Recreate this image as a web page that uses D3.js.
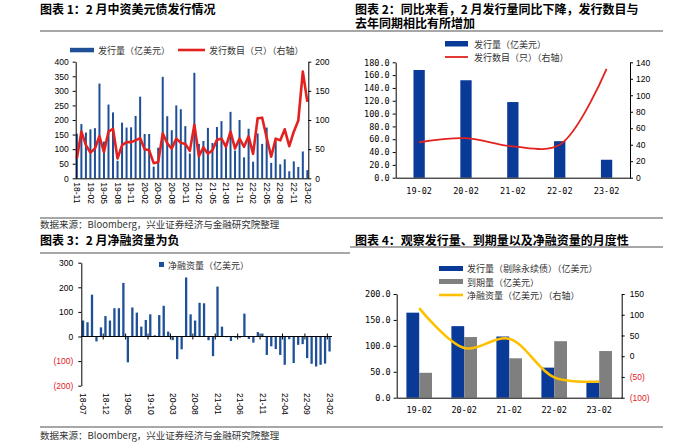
<!DOCTYPE html>
<html><head><meta charset="utf-8">
<script src="https://cdn.jsdelivr.net/npm/d3@7"></script>
<style>body{margin:0;background:#fff}svg{display:block}</style>
</head><body><svg id="c" width="700" height="442"></svg>
<script>
// ---------- DATA ----------
const months1 = ["18-11","18-12","19-01","19-02","19-03","19-04","19-05","19-06","19-07","19-08","19-09","19-10","19-11","19-12",
"20-01","20-02","20-03","20-04","20-05","20-06","20-07","20-08","20-09","20-10","20-11","20-12",
"21-01","21-02","21-03","21-04","21-05","21-06","21-07","21-08","21-09","21-10","21-11","21-12",
"22-01","22-02","22-03","22-04","22-05","22-06","22-07","22-08","22-09","22-10","22-11","22-12","23-01","23-02"];
const issueAmt1 = [153,186,157,168,172,325,126,253,226,60,191,174,175,214,280,152,152,40,105,348,213,165,250,237,179,85,
362,118,128,173,121,176,196,120,228,95,200,72,170,57,154,118,174,53,128,48,65,24,58,39,92,28];
const issueCnt1 = [34,80,57,44,51,72,45,80,85,34,57,62,62,65,69,50,48,26,28,77,60,51,68,61,59,47,
92,38,53,42,48,66,68,54,80,51,68,54,72,42,103,104,70,37,68,65,84,55,80,99,183,131];
const leftTicks1 = [0,50,100,150,200,250,300,350,400];
const rightTicks1 = [0,50,100,150,200];

const years2 = ["19-02","20-02","21-02","22-02","23-02"];
const issueAmt2 = [168,152,118,57,28];
const issueCnt2 = [43,48,38,40,132];
const leftTicks2 = [0,20,40,60,80,100,120,140,160,180];
const rightTicks2 = [0,20,40,60,80,100,120,140];

const months3 = ["18-07","18-08","18-09","18-10","18-11","18-12","19-01","19-02","19-03","19-04","19-05","19-06","19-07","19-08","19-09","19-10","19-11","19-12",
"20-01","20-02","20-03","20-04","20-05","20-06","20-07","20-08","20-09","20-10","20-11","20-12",
"21-01","21-02","21-03","21-04","21-05","21-06","21-07","21-08","21-09","21-10","21-11","21-12",
"22-01","22-02","22-03","22-04","22-05","22-06","22-07","22-08","22-09","22-10","22-11","22-12","23-01","23-02"];
const netFin3 = [65,58,170,-20,37,83,65,115,115,218,-105,118,97,40,67,90,5,87,125,20,-15,-92,-52,240,
90,65,137,135,-15,-80,203,40,-3,-18,-5,-5,93,-10,-25,18,12,-75,-40,-51,-75,-115,-11,-108,-34,-31,-88,-111,-122,-115,-110,-61];
const ticks3 = [-200,-100,0,100,200,300];

const years4 = ["19-02","20-02","21-02","22-02","23-02"];
const issueEx4 = [164,138,118,58,29];
const maturity4 = [48,117,76,109,90];
const netFin4 = [116,20,42,-51,-61];
const leftTicks4 = [0,50,100,150,200];
const rightTicks4 = [-100,-50,0,50,100,150];

// ---------- STYLE ----------
const BLUE1 = "#1f5097", BLUE2 = "#0a3a98", RED = "#e3211f", GRAY = "#7f7f7f", YEL = "#ffc000";
const CJK = "'Noto Sans CJK SC', sans-serif";
const NUM = "'Liberation Sans', Arial, sans-serif";
const MONO = "'DejaVu Sans Mono', monospace";
const negFmt = d => d < 0 ? "(" + (-d) + ")" : String(d);

const svg = d3.select("#c");

function text(x, y, s, opts) {
  const t = svg.append("text").attr("x", x).attr("y", y).text(s)
    .attr("font-family", opts.family || CJK).attr("font-size", opts.size || 9)
    .attr("fill", opts.fill || "#000");
  if (opts.weight) t.attr("font-weight", opts.weight);
  if (opts.anchor) t.attr("text-anchor", opts.anchor);
  if (opts.baseline) t.attr("dominant-baseline", opts.baseline);
  return t;
}
function hline(x1, x2, y, color, w) {
  svg.append("line").attr("x1", x1).attr("x2", x2).attr("y1", y).attr("y2", y)
    .attr("stroke", color).attr("stroke-width", w);
}
function styleAxis(g, family, size, colorFn) {
  g.select(".domain").attr("stroke", "#000").attr("stroke-width", 1);
  g.selectAll(".tick line").attr("stroke", "#000");
  g.selectAll(".tick text").attr("font-family", family).attr("font-size", size)
    .attr("fill", d => colorFn ? colorFn(d) : "#000");
}

// ---------- FRAME TEXT ----------
text(40, 13.6, "图表 1：2 月中资美元债发行情况", {size: 12, weight: 700});
{
  const t2 = text(355, 13.6, "", {size: 12, weight: 700});
  t2.append("tspan").attr("x", 355).attr("y", 13.6).text("图表 2：同比来看，2 月发行量同比下降，发行数目与");
  t2.append("tspan").attr("x", 355).attr("y", 27.6).text("去年同期相比有所增加");
}
text(40, 245, "图表 3：2 月净融资量为负", {size: 12, weight: 700});
text(355, 245, "图表 4：观察发行量、到期量以及净融资量的月度性", {size: 12, weight: 700});
hline(40, 663, 31, "#8a8a8a", 1.5);
hline(40, 663, 218, "#8a8a8a", 1.5);
hline(40, 350, 253, "#8a8a8a", 1.5);
hline(350, 663, 247, "#8a8a8a", 1.5);
hline(40, 663, 427, "#8a8a8a", 1.5);
text(40, 228, "数据来源：Bloomberg，兴业证券经济与金融研究院整理", {size: 9.5, fill: "#333"});
text(40, 439, "数据来源：Bloomberg，兴业证券经济与金融研究院整理", {size: 9.5, fill: "#333"});

// ---------- CHART 1 ----------
{
  const x = d3.scaleBand().domain(months1).range([74.6, 309.6]).padding(0);
  const yL = d3.scaleLinear().domain([0, 400]).range([178.3, 61.7]);
  const yR = d3.scaleLinear().domain([0, 200]).range([178.3, 61.7]);
  const bw = 2;
  svg.append("g").selectAll("rect").data(issueAmt1).join("rect")
    .attr("x", (d, i) => x(months1[i]) + x.bandwidth() / 2 - bw / 2)
    .attr("y", d => yL(d)).attr("width", bw).attr("height", d => yL(0) - yL(d))
    .attr("fill", BLUE1);
  svg.append("path").datum(issueCnt1)
    .attr("d", d3.line().x((d, i) => x(months1[i]) + x.bandwidth() / 2).y(d => yR(d)))
    .attr("fill", "none").attr("stroke", RED).attr("stroke-width", 2.6).attr("stroke-linejoin", "round");
  const gl = svg.append("g").attr("transform", "translate(75.7,0)")
    .call(d3.axisLeft(yL).tickValues(leftTicks1).tickSize(3).tickSizeOuter(0).tickPadding(4));
  styleAxis(gl, NUM, 8.5);
  const gr = svg.append("g").attr("transform", "translate(308.3,0)")
    .call(d3.axisRight(yR).tickValues(rightTicks1).tickSize(3).tickSizeOuter(0).tickPadding(4));
  styleAxis(gr, NUM, 8.5);
  const gb = svg.append("g").attr("transform", "translate(0,178.3)")
    .call(d3.axisBottom(x).tickValues(months1.filter((d, i) => i % 3 === 0)).tickSize(0).tickSizeOuter(0));
  styleAxis(gb, NUM, 8.5);
  gb.select(".domain").attr("d", "M75.7,0.5H308.3");
  gb.selectAll(".tick text").attr("transform", "translate(0,4) rotate(90)")
    .attr("text-anchor", "start").attr("dy", "0.32em").attr("x", 0).attr("y", 0);
  // legend
  svg.append("rect").attr("x", 70).attr("y", 47.8).attr("width", 24).attr("height", 4.5).attr("fill", BLUE1);
  text(98, 50.5, "发行量（亿美元）", {size: 9, fill: "#333", baseline: "central"});
  svg.append("line").attr("x1", 178).attr("x2", 205).attr("y1", 50).attr("y2", 50).attr("stroke", RED).attr("stroke-width", 2.6);
  text(209, 50.5, "发行数目（只）（右轴）", {size: 9, fill: "#333", baseline: "central"});
}

// ---------- CHART 2 ----------
{
  const x = d3.scaleBand().domain(years2).range([395.7, 630]).padding(0);
  const yL = d3.scaleLinear().domain([0, 180]).range([177.7, 62.3]);
  const yR = d3.scaleLinear().domain([0, 140]).range([177.7, 62.3]);
  const bw = 11.3;
  svg.append("g").selectAll("rect").data(issueAmt2).join("rect")
    .attr("x", (d, i) => x(years2[i]) + x.bandwidth() / 2 - bw / 2)
    .attr("y", d => yL(d)).attr("width", bw).attr("height", d => yL(0) - yL(d))
    .attr("fill", BLUE2);
  svg.append("path").datum(issueCnt2)
    .attr("d", d3.line().curve(d3.curveCatmullRom.alpha(0.5)).x((d, i) => x(years2[i]) + x.bandwidth() / 2).y(d => yR(d)))
    .attr("fill", "none").attr("stroke", RED).attr("stroke-width", 1.8);
  const gl = svg.append("g").attr("transform", "translate(395.7,0)")
    .call(d3.axisLeft(yL).tickValues(leftTicks2).tickFormat(d3.format(".1f")).tickSize(3).tickSizeOuter(0).tickPadding(3));
  styleAxis(gl, MONO, 8.5);
  const gr = svg.append("g").attr("transform", "translate(630,0)")
    .call(d3.axisRight(yR).tickValues(rightTicks2).tickSize(3).tickSizeOuter(0).tickPadding(3));
  styleAxis(gr, NUM, 8.5);
  const gb = svg.append("g").attr("transform", "translate(0,177.7)")
    .call(d3.axisBottom(x).tickSize(0).tickSizeOuter(0).tickPadding(10));
  styleAxis(gb, MONO, 8.5);
  // legend
  svg.append("rect").attr("x", 445).attr("y", 41).attr("width", 23).attr("height", 5.5).attr("fill", BLUE2);
  text(474, 44, "发行量（亿美元）", {size: 9, fill: "#333", baseline: "central"});
  svg.append("line").attr("x1", 445).attr("x2", 468).attr("y1", 57).attr("y2", 57).attr("stroke", RED).attr("stroke-width", 1.8);
  text(474, 57.5, "发行数目（只）（右轴）", {size: 9, fill: "#333", baseline: "central"});
}

// ---------- CHART 3 ----------
{
  const x = d3.scaleBand().domain(months3).range([80.8, 331.8]).padding(0);
  const y = d3.scaleLinear().domain([-200, 300]).range([385.7, 262.7]);
  const bw = 2.3;
  svg.append("g").selectAll("rect").data(netFin3).join("rect")
    .attr("x", (d, i) => x(months3[i]) + x.bandwidth() / 2 - bw / 2)
    .attr("y", d => y(Math.max(0, d))).attr("width", bw).attr("height", d => Math.abs(y(d) - y(0)))
    .attr("fill", BLUE1);
  const gl = svg.append("g").attr("transform", "translate(81.3,0)")
    .call(d3.axisLeft(y).tickValues(ticks3).tickFormat(negFmt).tickSize(3).tickSizeOuter(0).tickPadding(5));
  styleAxis(gl, NUM, 8.5, d => d < 0 ? "#e3211f" : "#000");
  // zero line with boundary ticks
  hline(81.3, 332, y(0), "#000", 1);
  const tickMonths = months3.filter((d, i) => i % 5 === 0 && i > 0);
  svg.append("g").selectAll("line").data(tickMonths).join("line")
    .attr("x1", d => x(d)).attr("x2", d => x(d)).attr("y1", y(0) - 3).attr("y2", y(0) + 3)
    .attr("stroke", "#000");
  // rotated labels at bottom
  const gb = svg.append("g").attr("transform", "translate(0,389)")
    .call(d3.axisBottom(x).tickValues(months3.filter((d, i) => i % 5 === 0)).tickSize(0));
  gb.select(".domain").remove();
  styleAxis(gb, NUM, 8.5);
  gb.selectAll(".tick text").attr("transform", "translate(0,4) rotate(90)")
    .attr("text-anchor", "start").attr("dy", "0.32em").attr("x", 0).attr("y", 0);
  // legend
  svg.append("rect").attr("x", 159).attr("y", 262).attr("width", 5).attr("height", 5).attr("fill", BLUE1);
  text(168, 265, "净融资量（亿美元）", {size: 9, fill: "#333", baseline: "central"});
}

// ---------- CHART 4 ----------
{
  const x = d3.scaleBand().domain(years4).range([396.7, 621.7]).padding(0);
  const yL = d3.scaleLinear().domain([0, 200]).range([397.7, 294]);
  const yR = d3.scaleLinear().domain([-100, 150]).range([397.7, 294]);
  const bw = 12.8;
  const cx = i => x(years4[i]) + x.bandwidth() / 2;
  svg.append("g").selectAll("rect").data(issueEx4).join("rect")
    .attr("x", (d, i) => cx(i) - bw).attr("y", d => yL(d)).attr("width", bw).attr("height", d => yL(0) - yL(d))
    .attr("fill", BLUE2);
  svg.append("g").selectAll("rect").data(maturity4).join("rect")
    .attr("x", (d, i) => cx(i)).attr("y", d => yL(d)).attr("width", bw).attr("height", d => yL(0) - yL(d))
    .attr("fill", GRAY);
  svg.append("path").datum(netFin4)
    .attr("d", d3.line().curve(d3.curveCatmullRom.alpha(0.5)).x((d, i) => cx(i)).y(d => yR(d)))
    .attr("fill", "none").attr("stroke", YEL).attr("stroke-width", 2.6);
  const gl = svg.append("g").attr("transform", "translate(396.7,0)")
    .call(d3.axisLeft(yL).tickValues(leftTicks4).tickFormat(d3.format(".1f")).tickSize(3).tickSizeOuter(0).tickPadding(3));
  styleAxis(gl, MONO, 8.5);
  const gr = svg.append("g").attr("transform", "translate(621.7,0)")
    .call(d3.axisRight(yR).tickValues(rightTicks4).tickFormat(negFmt).tickSize(3).tickSizeOuter(0).tickPadding(5));
  styleAxis(gr, NUM, 8.5, d => d < 0 ? "#e3211f" : "#000");
  const gb = svg.append("g").attr("transform", "translate(0,397.7)")
    .call(d3.axisBottom(x).tickSize(0).tickSizeOuter(0).tickPadding(9));
  styleAxis(gb, MONO, 8.5);
  // legend
  svg.append("rect").attr("x", 439).attr("y", 266).attr("width", 24).attr("height", 5).attr("fill", BLUE2);
  text(467, 268.5, "发行量（剔除永续债）（亿美元）", {size: 9, fill: "#333", baseline: "central"});
  svg.append("rect").attr("x", 439).attr("y", 279).attr("width", 24).attr("height", 5).attr("fill", GRAY);
  text(467, 282, "到期量（亿美元）", {size: 9, fill: "#333", baseline: "central"});
  svg.append("line").attr("x1", 439).attr("x2", 463).attr("y1", 295).attr("y2", 295).attr("stroke", YEL).attr("stroke-width", 2.6);
  text(467, 295.5, "净融资量（亿美元）（右轴）", {size: 9, fill: "#333", baseline: "central"});
}
</script></body></html>
